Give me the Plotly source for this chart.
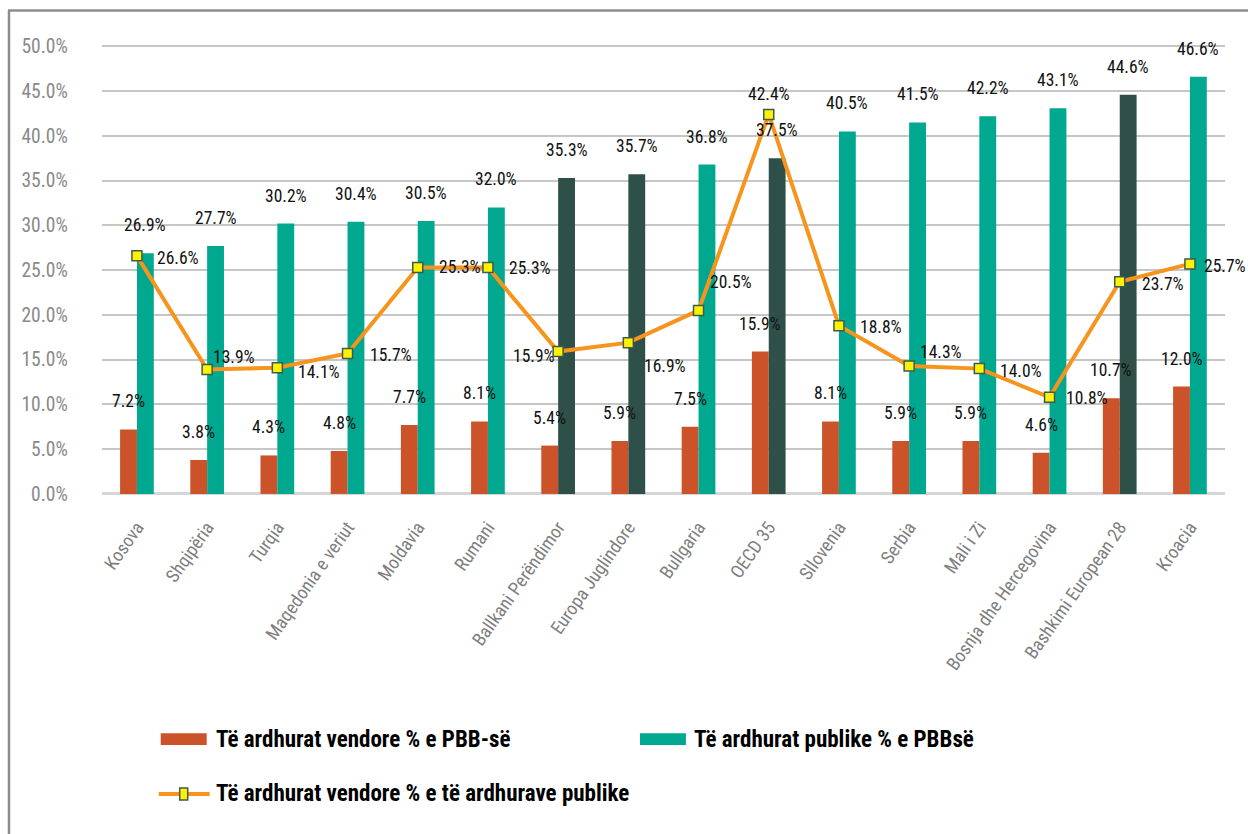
import plotly.graph_objects as go

categories = ["Kosova", "Shqipëria", "Turqia", "Maqedonia e veriut", "Moldavia", "Rumani",
              "Ballkani Perëndimor", "Europa Juglindore", "Bullgaria", "OECD 35", "Sllovenia",
              "Serbia", "Mali i Zi", "Bosnja dhe Hercegovina", "Bashkimi European 28", "Kroacia"]
local_gdp = [7.2, 3.8, 4.3, 4.8, 7.7, 8.1, 5.4, 5.9, 7.5, 15.9, 8.1, 5.9, 5.9, 4.6, 10.7, 12.0]
public_gdp = [26.9, 27.7, 30.2, 30.4, 30.5, 32.0, 35.3, 35.7, 36.8, 37.5, 40.5, 41.5, 42.2, 43.1, 44.6, 46.6]
local_share = [26.6, 13.9, 14.1, 15.7, 25.3, 25.3, 15.9, 16.9, 20.5, 42.4, 18.8, 14.3, 14.0, 10.8, 23.7, 25.7]
aggregates = ["Ballkani Perëndimor", "Europa Juglindore", "OECD 35", "Bashkimi European 28"]
y_ticks = [0, 5, 10, 15, 20, 25, 30, 35, 40, 45, 50]
y_tick_labels = ["0.0%", "5.0%", "10.0%", "15.0%", "20.0%", "25.0%", "30.0%", "35.0%",
                 "40.0%", "45.0%", "50.0%"]

series_names = ["Të ardhurat vendore % e PBB-së", "Të ardhurat publike % e PBBsë",
                "Të ardhurat vendore % e të ardhurave publike"]

# styles
RED = "#CC5229"
TEAL = "#00A88F"
DARK = "#2F5049"
ORANGE = "#F7941D"
YELLOW = "#FFF200"
MARK_EDGE = "#3D5A4E"
FONT = "Roboto Condensed, Noto Sans Condensed, Liberation Sans Narrow, DejaVu Sans Condensed, sans-serif"
W, H = 1248, 834
# vertical calibration of the rendered picture (picture_y = SC * page_y + OFF)
SC, OFF = 0.978, 8.5
# plot area in picture pixels
PX_L, PX_R, PX_T, PX_B = 100, 1225, 46, 495
Y_MAX = 50.0
Y_TOP = 50.25  # small headroom so the 50% gridline is drawn

# label offsets for the line labels (pixels: dx from marker, dy downward, anchor)
line_label_pos = [(18, 2, "left"), (4, -13, "left"), (19, 4, "left"), (20, 2, "left"),
                  (19, 0, "left"), (19, 1, "left"), (-1, 4, "right"), (14, 23, "left"),
                  (9, -28, "left"), (0, -20, "center"), (19, 1, "left"), (9, -14, "left"),
                  (19, 2, "left"), (14, 1, "left"), (20, 2, "left"), (12, 2, "left")]

n = len(categories)
idx = list(range(n))
public_colors = [DARK if c in aggregates else TEAL for c in categories]

fig = go.Figure()
fig.add_trace(go.Bar(x=idx, y=local_gdp, name=series_names[0], marker_color=RED,
                     marker_line_width=0, showlegend=False))
fig.add_trace(go.Bar(x=idx, y=public_gdp, name=series_names[1], marker_color=public_colors,
                     marker_line_width=0, showlegend=False))
fig.add_trace(go.Scatter(x=idx, y=local_share, name=series_names[2], mode="lines+markers",
                         line=dict(color=ORANGE, width=4),
                         marker=dict(symbol="square", size=10, color=YELLOW,
                                     line=dict(color=MARK_EDGE, width=1.5)),
                         showlegend=False))

bar_half = 0.12  # center offset of each bar within the group
annotations = []
lab_font = dict(family=FONT, size=17.5, color="#111111")
for i in idx:
    annotations.append(dict(x=i - bar_half, y=local_gdp[i], xref="x", yref="y",
                            text=f"{local_gdp[i]:.1f}%", showarrow=False, yshift=28,
                            font=lab_font, xanchor="center", yanchor="middle"))
    annotations.append(dict(x=i + bar_half, y=public_gdp[i], xref="x", yref="y",
                            text=f"{public_gdp[i]:.1f}%", showarrow=False, yshift=28,
                            font=lab_font, xanchor="center", yanchor="middle"))
    dx, dy, anc = line_label_pos[i]
    annotations.append(dict(x=i, y=local_share[i], xref="x", yref="y",
                            text=f"{local_share[i]:.1f}%", showarrow=False,
                            xshift=dx, yshift=-dy, font=lab_font,
                            xanchor=anc, yanchor="middle"))

def px(x):
    return x / W

def py(y):
    return 1 - ((y - OFF) / SC) / H

# manual legend
leg_font = dict(family=FONT, size=23, color="#000000", weight="bold")
shapes = [
    # frame
    dict(type="line", xref="paper", yref="paper", x0=px(7), x1=px(7), y0=py(10), y1=py(850),
         line=dict(color="#8C8C8C", width=2.5)),
    dict(type="line", xref="paper", yref="paper", x0=px(6), x1=px(1250), y0=py(10), y1=py(10),
         line=dict(color="#8C8C8C", width=2.5)),
    # legend swatches
    dict(type="rect", xref="paper", yref="paper", x0=px(159), x1=px(205), y0=py(747), y1=py(735),
         fillcolor=RED, line=dict(width=0)),
    dict(type="rect", xref="paper", yref="paper", x0=px(639), x1=px(685), y0=py(747), y1=py(735),
         fillcolor=TEAL, line=dict(width=0)),
    dict(type="line", xref="paper", yref="paper", x0=px(157), x1=px(208), y0=py(796), y1=py(796),
         line=dict(color=ORANGE, width=4)),
    dict(type="rect", xref="paper", yref="paper", x0=px(178), x1=px(186), y0=py(802), y1=py(790),
         fillcolor=YELLOW, line=dict(color=MARK_EDGE, width=1.5)),
]
annotations += [
    dict(xref="paper", yref="paper", x=px(212), y=py(741), text=series_names[0], showarrow=False,
         xanchor="left", yanchor="middle", font=leg_font),
    dict(xref="paper", yref="paper", x=px(691), y=py(741), text=series_names[1], showarrow=False,
         xanchor="left", yanchor="middle", font=leg_font),
    dict(xref="paper", yref="paper", x=px(212), y=py(796), text=series_names[2], showarrow=False,
         xanchor="left", yanchor="middle", font=leg_font),
]

y_top_px = PX_B - (PX_B - PX_T) * Y_TOP / Y_MAX

fig.update_layout(
    width=W, height=H,
    margin=dict(l=0, r=0, t=0, b=0),
    paper_bgcolor="white", plot_bgcolor="white",
    barmode="group", bargap=0.52, bargroupgap=0,
    showlegend=False,
    annotations=annotations,
    shapes=shapes,
    xaxis=dict(domain=[px(PX_L), px(PX_R)], tickmode="array", tickvals=idx, ticktext=categories,
               range=[-0.5, n - 0.5], tickangle=-55, showgrid=False, showline=False,
               zeroline=False, ticks="", ticklabelstandoff=18,
               tickfont=dict(family=FONT, size=18.5, color="#7F7F7F")),
    yaxis=dict(domain=[py(PX_B), py(y_top_px)], range=[0, Y_TOP], tickmode="array",
               tickvals=y_ticks, ticktext=y_tick_labels,
               showgrid=True, gridcolor="#C6C6C6", gridwidth=2,
               zeroline=True, zerolinecolor="#D6D6D6", zerolinewidth=3, showline=False,
               ticks="", ticklabelstandoff=33,
               tickfont=dict(family=FONT, size=19.5, color="#898989")),
)

post = ("var s=document.createElement('style');"
        "s.innerHTML='html,body{margin:0 !important;padding:0 !important;overflow:hidden;}';"
        "document.head.appendChild(s);"
        "document.documentElement.style.margin='0';document.body.style.margin='0';")

fig.write_html("out.html", config={"displayModeBar": False, "responsive": False},
               post_script=post)
